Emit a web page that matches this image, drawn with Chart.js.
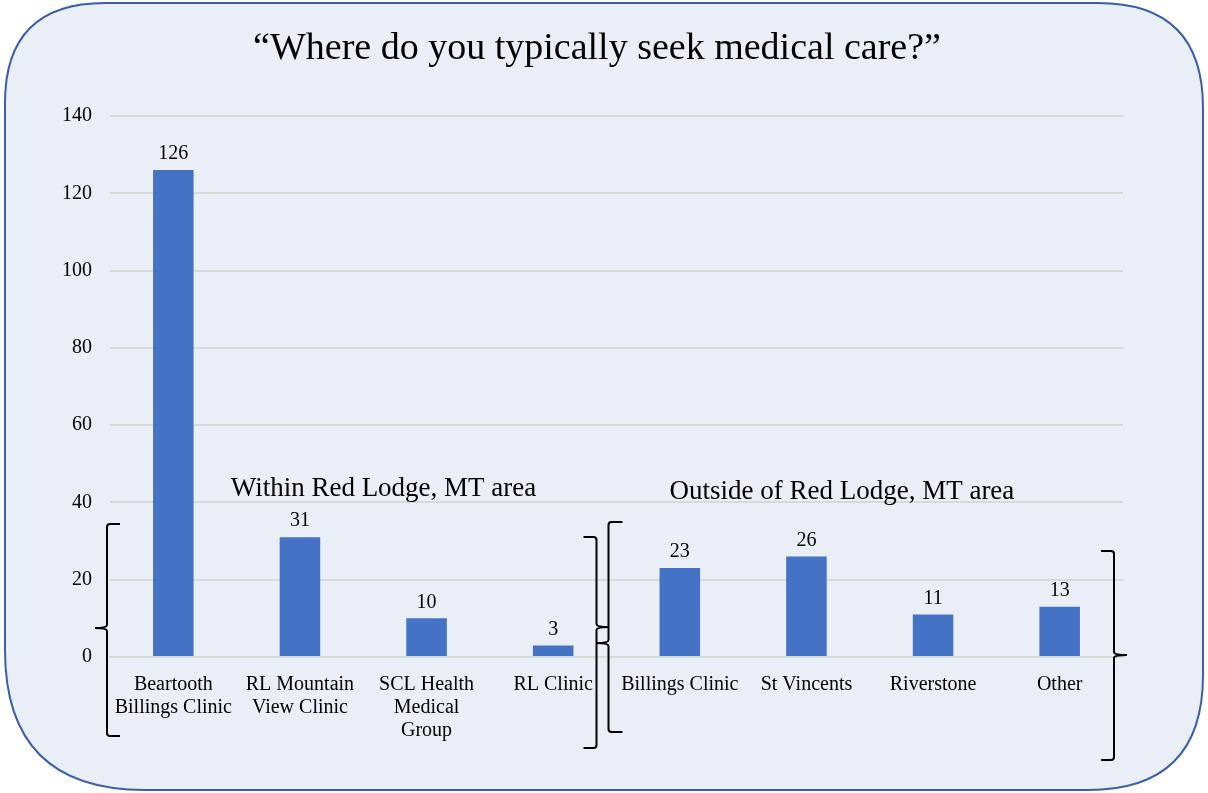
<!DOCTYPE html>
<html>
<head>
<meta charset="utf-8">
<script src="https://cdn.jsdelivr.net/npm/chart.js@4/dist/chart.umd.min.js"></script>
<style>
  html, body { margin: 0; padding: 0; background: #ffffff; }
  #wrap { width: 1208px; height: 793px; position: relative; }
</style>
</head>
<body>
<div id="wrap"><canvas id="c" width="1208" height="793"></canvas></div>
<script>
const categories = [
  ["Beartooth", "Billings Clinic"],
  ["RL Mountain", "View Clinic"],
  ["SCL Health", "Medical", "Group"],
  "RL Clinic",
  "Billings Clinic",
  "St Vincents",
  "Riverstone",
  "Other"
];
const responses = [126, 31, 10, 3, 23, 26, 11, 13];
const yTicks = [0, 20, 40, 60, 80, 100, 120, 140];
const titleText = "\u201CWhere do you typically seek medical care?\u201D";
const groupLabels = ["Within Red Lodge, MT area", "Outside of Red Lodge, MT area"];

const SERIF = '"Liberation Serif", "Times New Roman", Times, serif';

const framePlugin = {
  id: 'frame',
  beforeDraw(chart) {
    const ctx = chart.ctx;
    ctx.save();
    ctx.fillStyle = '#ffffff';
    ctx.fillRect(0, 0, chart.width, chart.height);
    const x0 = 5, y0 = 3, x1 = 1203, y1 = 790;
    const rtl = 100, rtr = 105, rbl = 140, rbr = 115;
    ctx.beginPath();
    ctx.moveTo(x0 + rtl, y0);
    ctx.lineTo(x1 - rtr, y0);
    ctx.quadraticCurveTo(x1, y0, x1, y0 + rtr);
    ctx.lineTo(x1, y1 - rbr);
    ctx.quadraticCurveTo(x1, y1, x1 - rbr, y1);
    ctx.lineTo(x0 + rbl, y1);
    ctx.quadraticCurveTo(x0, y1, x0, y1 - rbl);
    ctx.lineTo(x0, y0 + rtl);
    ctx.quadraticCurveTo(x0, y0, x0 + rtl, y0);
    ctx.closePath();
    ctx.fillStyle = '#e9eef7';
    ctx.fill();
    ctx.lineWidth = 2;
    ctx.strokeStyle = '#3b5ea6';
    ctx.stroke();
    // title
    ctx.fillStyle = '#000000';
    ctx.font = '38px ' + SERIF;
    ctx.textAlign = 'center';
    ctx.textBaseline = 'middle';
    ctx.fillText(titleText, 597, 49);
    ctx.restore();
  }
};

const labelsPlugin = {
  id: 'valueLabels',
  afterDatasetsDraw(chart) {
    const ctx = chart.ctx;
    const meta = chart.getDatasetMeta(0);
    ctx.save();
    ctx.fillStyle = '#000000';
    ctx.font = '20px ' + SERIF;
    ctx.textAlign = 'center';
    ctx.textBaseline = 'middle';
    meta.data.forEach((bar, i) => {
      ctx.fillText(String(responses[i]), bar.x, bar.y - 16);
    });
    // group annotations
    const xs = chart.scales.x, ys = chart.scales.y;
    ctx.font = '27px ' + SERIF;
    ctx.fillText(groupLabels[0], xs.getPixelForValue(1.66), ys.getPixelForValue(43.6));
    ctx.fillText(groupLabels[1], xs.getPixelForValue(5.28), ys.getPixelForValue(42.6));
    ctx.restore();
  }
};

function brace(ctx, x, top, bottom, mid, dir, serif, point) {
  // dir = +1: opening brace (serifs to the right, point to the left)
  // dir = -1: closing brace (serifs to the left, point to the right)
  const s = dir * serif;
  const p = -dir * point;
  ctx.beginPath();
  ctx.moveTo(x + s, top);
  ctx.lineTo(x + dir * 3, top);
  ctx.quadraticCurveTo(x, top, x, top + 3);
  ctx.lineTo(x, mid - 3);
  ctx.quadraticCurveTo(x, mid, x + p, mid);
  ctx.quadraticCurveTo(x, mid, x, mid + 3);
  ctx.lineTo(x, bottom - 3);
  ctx.quadraticCurveTo(x, bottom, x + dir * 3, bottom);
  ctx.lineTo(x + s, bottom);
  ctx.stroke();
}

const bracketPlugin = {
  id: 'brackets',
  afterDraw(chart) {
    const ctx = chart.ctx;
    const xs = chart.scales.x, ys = chart.scales.y;
    const base = ys.getPixelForValue(0);
    const edge = i => xs.getPixelForValue(i - 0.5);
    ctx.save();
    ctx.strokeStyle = '#000000';
    ctx.lineWidth = 2;
    brace(ctx, edge(0) - 3, base - 133, base + 79, base - 29, +1, 13, 12);
    brace(ctx, edge(4) - 20, base - 120, base + 91, base - 30, -1, 13, 12);
    brace(ctx, edge(4) - 8, base - 135, base + 75, base - 14, +1, 14, 12);
    brace(ctx, edge(8) - 9, base - 106, base + 103, base - 2, -1, 13, 13);
    ctx.restore();
  }
};

new Chart(document.getElementById('c'), {
  type: 'bar',
  data: {
    labels: categories,
    datasets: [{
      data: responses,
      backgroundColor: '#4472c4',
      borderWidth: 0,
      barPercentage: 0.32,
      categoryPercentage: 1.0
    }]
  },
  options: {
    responsive: false,
    animation: false,
    devicePixelRatio: 1,
    layout: { padding: { top: 116, left: 10, right: 85, bottom: 36 } },
    plugins: {
      legend: { display: false },
      title: { display: false },
      tooltip: { enabled: false }
    },
    scales: {
      x: {
        grid: { display: false, drawTicks: false },
        border: { display: true, color: '#d9d9d9', width: 2 },
        ticks: {
          color: '#000000',
          font: { family: SERIF, size: 20, lineHeight: 1.15 },
          padding: 16,
          maxRotation: 0,
          minRotation: 0,
          autoSkip: false
        },
        afterFit(scale) { scale.height = 100; }
      },
      y: {
        min: 0,
        max: 140,
        afterBuildTicks(scale) { scale.ticks = yTicks.map(v => ({ value: v })); },
        grid: { color: '#d9d9d9', lineWidth: 2, drawTicks: false },
        border: { display: false },
        ticks: {
          color: '#000000',
          font: { family: SERIF, size: 20 },
          padding: 18
        },
        afterFit(scale) { scale.width = 100; }
      }
    }
  },
  plugins: [framePlugin, labelsPlugin, bracketPlugin]
});
</script>
</body>
</html>
